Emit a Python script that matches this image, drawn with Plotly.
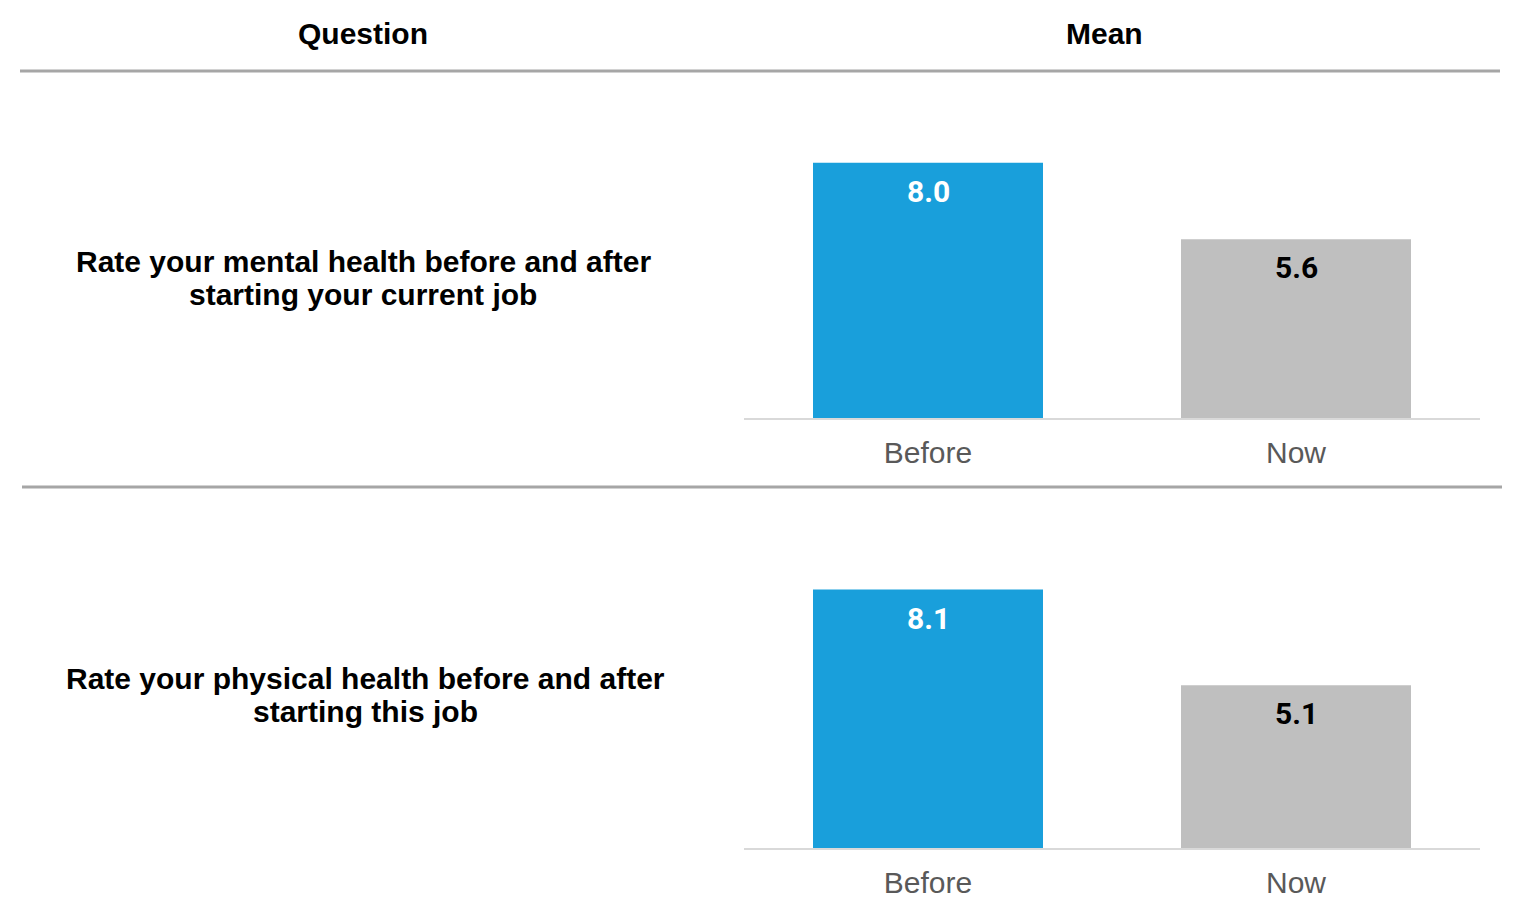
import plotly.graph_objects as go

W, H = 1523, 912
OFF = 8  # page body margin offset

questions = [
    ["Rate your mental health before and after", "starting your current job"],
    ["Rate your physical health before and after", "starting this job"],
]
categories = ["Before", "Now"]
mental_values = [8.0, 5.6]
physical_values = [8.1, 5.1]
bar_colors = ["#199fdb", "#bfbfbf"]
label_colors = ["#ffffff", "#000000"]
headers = ["Question", "Mean"]

def px_x(v):
    return (v - OFF) / W

def px_y(v):
    return 1 - (v - OFF) / H

fig = go.Figure()

series = [mental_values, physical_values]
for i, vals in enumerate(series):
    xa = "x" if i == 0 else "x2"
    ya = "y" if i == 0 else "y2"
    fig.add_trace(go.Bar(
        x=categories, y=vals, marker=dict(color=bar_colors, line=dict(width=0)),
        xaxis=xa, yaxis=ya, showlegend=False, hoverinfo="skip",
    ))
    for c, v, col in zip(categories, vals, label_colors):
        fig.add_annotation(
            x=c, y=v, xref=xa, yref=ya, text=f"{v:.1f}", showarrow=False,
            yanchor="top", yshift=-9,
            font=dict(family="Roboto", size=30, color=col, weight="bold"),
        )

xdom = [px_x(744), px_x(1480)]
axis_common = dict(showgrid=False, zeroline=False)
tickfont = dict(family="Liberation Sans", size=30, color="#595959")
fig.update_layout(
    width=W, height=H,
    margin=dict(l=0, r=0, t=0, b=0),
    paper_bgcolor="white", plot_bgcolor="white",
    bargap=0.375,
    xaxis=dict(domain=xdom, anchor="y", showline=True, linecolor="#d9d9d9", linewidth=2,
               tickfont=tickfont, ticks="outside", ticklen=7, tickcolor="rgba(0,0,0,0)",
               **axis_common),
    yaxis=dict(domain=[px_y(418), px_y(99)], range=[0, 10], visible=False, **axis_common),
    xaxis2=dict(domain=xdom, anchor="y2", showline=True, linecolor="#d9d9d9", linewidth=2,
                tickfont=tickfont, ticks="outside", ticklen=7, tickcolor="rgba(0,0,0,0)",
                **axis_common),
    yaxis2=dict(domain=[px_y(848), px_y(529)], range=[0, 10], visible=False, **axis_common),
)

# header texts
for txt, xc in zip(headers, [363, 1104]):
    fig.add_annotation(x=px_x(xc), y=px_y(33), xref="paper", yref="paper", text=txt,
                       showarrow=False, xanchor="center", yanchor="middle",
                       font=dict(family="Liberation Sans", size=30, color="#000000", weight="bold"))

# question texts (one annotation per line for tight line spacing)
for lines, xc, yc in zip(questions, [363, 365], [261, 678]):
    for k, line in enumerate(lines):
        fig.add_annotation(x=px_x(xc), y=px_y(yc + 33 * k), xref="paper", yref="paper",
                           text=line, showarrow=False, xanchor="center", yanchor="middle",
                           font=dict(family="Liberation Sans", size=30, color="#000000",
                                     weight="bold"))

# divider lines
for y, x0, x1 in [(71, 20, 1500), (487, 22, 1502)]:
    fig.add_shape(type="line", xref="paper", yref="paper", x0=px_x(x0), x1=px_x(x1),
                  y0=px_y(y), y1=px_y(y), line=dict(color="#a6a6a6", width=3))

fig.write_html("out.html")
